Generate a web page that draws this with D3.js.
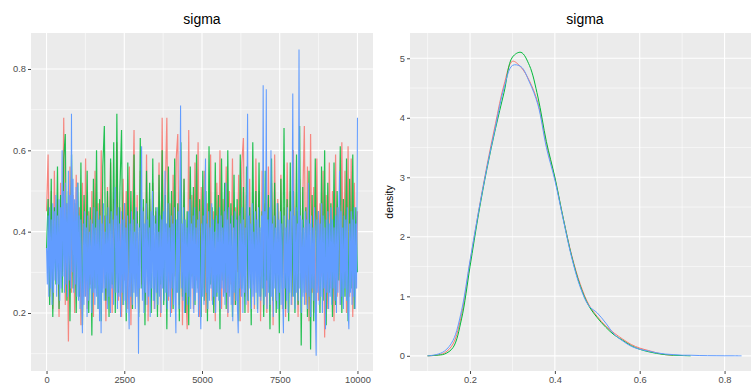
<!DOCTYPE html>
<html>
<head>
<meta charset="utf-8">
<script src="https://cdn.jsdelivr.net/npm/d3@7"></script>
<style>
  body { margin: 0; background: #fff; }
  svg { display: block; font-family: "Liberation Sans", Arial, sans-serif; }
</style>
</head>
<body>
<script>
// Trace values; chains 1-2 every 50 iterations, chain 3 every 25
const chain1 = [
  .45,.59,.24,.50,.21,.55,.28,.48,.19,.52, .30,.68,.22,.47,.13,.56,.25,.49,.20,.54,
  .33,.46,.17,.52,.24,.58,.21,.45,.27,.50, .19,.55,.29,.47,.22,.60,.26,.44,.18,.51,
  .31,.57,.20,.48,.25,.62,.23,.46,.19,.53, .28,.50,.21,.56,.17,.44,.65,.24,.49,.20,
  .55,.27,.46,.22,.59,.18,.48,.30,.52,.21, .45,.25,.57,.19,.68,.26,.50,.68,.23,.47,
  .20,.54,.29,.58,.64,.22,.46,.17,.53,.27, .16,.65,.24,.49,.21,.57,.28,.62,.19,.51,
  .26,.55,.20,.47,.30,.59,.23,.45,.18,.52, .29,.60,.21,.48,.25,.56,.19,.50,.27,.58,
  .22,.46,.30,.54,.18,.57,.63,.24,.49,.20, .53,.27,.45,.21,.58,.25,.50,.18,.55,.29,
  .47,.20,.56,.26,.52,.17,.59,.23,.48,.28, .54,.21,.46,.19,.57,.30,.50,.22,.60,.25,
  .45,.19,.53,.27,.48,.66,.22,.56,.18,.64, .25,.51,.20,.58,.23,.47,.29,.55,.14,.49,
  .21,.57,.26,.50,.18,.59,.24,.46,.22,.62, .27,.55,.20,.61,.24,.58,.19,.52,.26,.45
]
const chain2 = [
  .36,.48,.22,.53,.19,.46,.27,.56,.21,.49, .25,.58,.64,.23,.50,.18,.59,.26,.47,.20,
  .52,.24,.57,.17,.49,.28,.55,.20,.46,.145, .53,.26,.60,.21,.48,.18,.56,.66,.23,.50,
  .19,.58,.27,.62,.20,.69,.25,.51,.65,.22, .47,.18,.57,.28,.50,.21,.59,.24,.45,.19,
  .63,.26,.48,.17,.55,.29,.52,.20,.58,.23, .46,.19,.54,.27,.60,.22,.49,.16,.56,.28,
  .50,.21,.58,.25,.47,.18,.62,.24,.53,.20, .45,.17,.56,.29,.51,.22,.59,.26,.48,.19,
  .55,.23,.50,.18,.61,.27,.46,.20,.57,.24, .49,.16,.58,.28,.52,.21,.60,.25,.47,.19,
  .54,.22,.48,.18,.59,.26,.51,.20,.56,.23, .46,.17,.62,.27,.50,.21,.57,.24,.45,.19,
  .55,.28,.49,.16,.58,.23,.52,.20,.47,.15, .53,.26,.655,.21,.48,.18,.57,.24,.50,.20,
  .59,.22,.66,.12,.51,.25,.46,.19,.55,.11, .49,.18,.58,.27,.45,.20,.56,.23,.60,.17,
  .52,.25,.47,.19,.57,.22,.50,.28,.61,.20, .48,.24,.58,.18,.53,.26,.59,.21,.46,.30
]
const chain3 = [
  .36,.27,.44,.24,.46,.26,.43,.22,.47,.25, .45,.28,.49,.24,.44,.27,.48,.23,.46,.26,
  .60,.29,.50,.25,.52,.27,.47,.24,.55,.28, .49,.26,.69,.30,.53,.25,.48,.27,.51,.24,
  .52,.23,.44,.21,.43,.25,.15,.42,.22,.45, .24,.41,.19,.44,.23,.40,.26,.43,.20,.42,
  .25,.46,.22,.41,.24,.45,.21,.43,.18,.44, .15,.42,.25,.47,.23,.40,.26,.44,.21,.46,
  .24,.42,.20,.45,.26,.43,.22,.41,.51,.25, .44,.21,.46,.24,.42,.19,.45,.25,.43,.22,
  .47,.23,.41,.20,.44,.26,.16,.42,.24,.45, .22,.43,.25,.40,.21,.46,.24,.42,.10,.41,
  .26,.44,.61,.23,.45,.20,.42,.25,.47,.22, .43,.24,.41,.19,.45,.26,.50,.23,.44,.21,
  .42,.25,.46,.22,.40,.24,.44,.20,.43,.26, .45,.23,.55,.25,.42,.21,.47,.24,.41,.19,
  .44,.26,.42,.22,.46,.24,.15,.43,.25,.45, .21,.44,.71,.26,.42,.23,.46,.20,.43,.25,
  .41,.22,.45,.24,.48,.21,.42,.26,.44,.20, .46,.23,.41,.25,.43,.19,.45,.24,.16,.42,
  .24,.44,.22,.46,.58,.25,.42,.21,.45,.23, .41,.26,.47,.22,.43,.24,.40,.20,.44,.25,
  .42,.23,.46,.21,.44,.26,.41,.24,.45,.22, .52,.25,.43,.20,.46,.24,.42,.22,.44,.18,
  .41,.25,.45,.23,.43,.21,.15,.44,.26,.42, .24,.46,.20,.43,.25,.41,.22,.45,.69,.23,
  .44,.26,.42,.21,.47,.24,.40,.22,.45,.25, .43,.20,.46,.24,.41,.23,.44,.26,.76,.22,
  .45,.24,.75,.21,.43,.25,.46,.22,.60,.24, .42,.19,.44,.26,.41,.23,.47,.21,.43,.25,
  .45,.22,.42,.24,.15,.44,.26,.41,.23,.46, .20,.43,.25,.45,.22,.42,.74,.24,.44,.21,
  .46,.25,.42,.23,.848,.26,.44,.20,.43,.24, .41,.22,.45,.25,.43,.21,.52,.24,.42,.19,
  .44,.26,.41,.23,.46,.21,.095,.43,.25,.45, .22,.42,.24,.47,.20,.44,.26,.41,.16,.43,
  .25,.45,.21,.42,.24,.46,.22,.43,.26,.41, .23,.44,.20,.46,.25,.42,.55,.22,.45,.24,
  .41,.21,.44,.26,.43,.23,.46,.20,.16,.42, .25,.45,.22,.43,.24,.46,.21,.42,.26,.68
]
const chains = [chain1, chain2, chain3]
const colors = ['#F8766D', '#00BA38', '#619CFF']
const nIter = 10000

// Density curves, evaluated on a 0.02 grid starting at 0.10
const densityX = d3.range(38).map(i => +(0.10 + i * 0.02).toFixed(2))
const density1 = [0, .01, .05, .2, .7, 1.58, 2.42, 3.2, 3.9, 4.55, 4.95, 4.85, 4.62, 4.25, 3.55, 2.98,
  2.3, 1.68, 1.2, .86, .66, .5, .38, .28, .19, .13, .09, .05, .02, .01]
const density2 = [0, .01, .03, .14, .62, 1.5, 2.38, 3.15, 3.82, 4.42, 5.02, 5.1, 4.88, 4.35, 3.6, 3.0,
  2.3, 1.66, 1.17, .84, .64, .48, .35, .26, .17, .11, .07, .04, .02, .01, .005, 0]
const density3 = [0, .02, .08, .26, .76, 1.6, 2.42, 3.17, 3.85, 4.5, 4.88, 4.86, 4.6, 4.22, 3.5, 2.95,
  2.28, 1.64, 1.15, .84, .72, .55, .36, .25, .16, .11, .08, .05, .03, .02, .01, .01, .005, .003,
  .002, .001, .001, 0]
const densities = [density1, density2, density3]

const traceYTicks = [0.2, 0.4, 0.6, 0.8]
const traceXTicks = [0, 2500, 5000, 7500, 10000]
const densYTicks = [0, 1, 2, 3, 4, 5]
const densXTicks = [0.2, 0.4, 0.6, 0.8]

const W = 751, H = 385
const svg = d3.select('body').append('svg').attr('width', W).attr('height', H)

function panel(x0, x1, y0, y1, xs, ys, xMajor, yMajor) {
  const g = svg.append('g')
  g.append('rect').attr('x', x0).attr('y', y0).attr('width', x1 - x0).attr('height', y1 - y0)
    .attr('fill', '#EBEBEB')
  const mid = arr => d3.range(arr.length + 1).map(i => {
    const step = arr[1] - arr[0]
    return arr[0] + (i - 0.5) * step
  })
  const xMinor = mid(xMajor).filter(v => xs(v) > x0 && xs(v) < x1)
  const yMinor = mid(yMajor).filter(v => ys(v) > y0 && ys(v) < y1)
  g.selectAll('.vmin').data(xMinor).join('line')
    .attr('x1', d => xs(d)).attr('x2', d => xs(d)).attr('y1', y0).attr('y2', y1)
    .attr('stroke', '#fff').attr('stroke-width', 0.55)
  g.selectAll('.hmin').data(yMinor).join('line')
    .attr('y1', d => ys(d)).attr('y2', d => ys(d)).attr('x1', x0).attr('x2', x1)
    .attr('stroke', '#fff').attr('stroke-width', 0.55)
  g.selectAll('.vmaj').data(xMajor).join('line')
    .attr('x1', d => xs(d)).attr('x2', d => xs(d)).attr('y1', y0).attr('y2', y1)
    .attr('stroke', '#fff').attr('stroke-width', 1.1)
  g.selectAll('.hmaj').data(yMajor).join('line')
    .attr('y1', d => ys(d)).attr('y2', d => ys(d)).attr('x1', x0).attr('x2', x1)
    .attr('stroke', '#fff').attr('stroke-width', 1.1)
}

function axes(x0, y1, xs, ys, xTicks, yTicks, xFmt, yFmt) {
  const ax = svg.append('g').attr('transform', `translate(0,${y1})`)
    .call(d3.axisBottom(xs).tickValues(xTicks).tickFormat(xFmt).tickSize(3).tickPadding(2))
  const ay = svg.append('g').attr('transform', `translate(${x0},0)`)
    .call(d3.axisLeft(ys).tickValues(yTicks).tickFormat(yFmt).tickSize(3).tickPadding(2))
  for (const a of [ax, ay]) {
    a.select('.domain').remove()
    a.selectAll('line').attr('stroke', '#333').attr('stroke-width', 0.9)
    a.selectAll('text').attr('fill', '#4D4D4D').attr('font-size', 9.3)
      .attr('font-family', '"Liberation Sans", Arial, sans-serif')
  }
}

// Left: trace plot
const L = { x0: 31, x1: 373, y0: 33, y1: 371 }
const xT = d3.scaleLinear().domain([-500, 10500]).range([L.x0, L.x1])
const yT = d3.scaleLinear().domain([0.0574, 0.8885]).range([L.y1, L.y0])
panel(L.x0, L.x1, L.y0, L.y1, xT, yT, traceXTicks, traceYTicks)

// iteration of each draw follows from its position in the chain
const traceLine = d3.line()
  .x((d, i, arr) => xT(i * nIter / (arr.length - 1)))
  .y(d => yT(d))
svg.append('g').selectAll('path').data(chains).join('path')
  .attr('d', traceLine)
  .attr('fill', 'none')
  .attr('stroke', (_, i) => colors[i])
  .attr('stroke-width', (_, i) => i === 2 ? 1.05 : 1.2)
  .attr('stroke-opacity', (_, i) => i === 2 ? 1 : 0.85)

axes(L.x0, L.y1, xT, yT, traceXTicks, traceYTicks, d3.format('d'), d3.format('.1f'))
svg.append('text').attr('x', (L.x0 + L.x1) / 2).attr('y', 24)
  .attr('text-anchor', 'middle').attr('font-size', 14).attr('fill', '#000').text('sigma')

// Right: density plot
const R = { x0: 410, x1: 760, y0: 33, y1: 371 }
const xD = d3.scaleLinear().domain([0.0585, 0.8835]).range([R.x0, R.x1])
const yD = d3.scaleLinear().domain([-0.255, 5.425]).range([R.y1, R.y0])
panel(R.x0, R.x1, R.y0, R.y1, xD, yD, densXTicks, densYTicks)

const densLine = d3.line()
  .x((d, i) => xD(densityX[i]))
  .y(d => yD(d))
  .curve(d3.curveCatmullRom.alpha(0.5))
svg.append('g').selectAll('path').data(densities).join('path')
  .attr('d', densLine)
  .attr('fill', 'none')
  .attr('stroke', (_, i) => colors[i])
  .attr('stroke-width', 1)

axes(R.x0, R.y1, xD, yD, densXTicks, densYTicks, d3.format('.1f'), d3.format('d'))
svg.append('text').attr('x', (R.x0 + R.x1) / 2).attr('y', 24)
  .attr('text-anchor', 'middle').attr('font-size', 14).attr('fill', '#000').text('sigma')
svg.append('text').attr('transform', `translate(393,${(R.y0 + R.y1) / 2}) rotate(-90)`)
  .attr('text-anchor', 'middle').attr('font-size', 10.5).attr('fill', '#000').text('density')
</script>
</body>
</html>
